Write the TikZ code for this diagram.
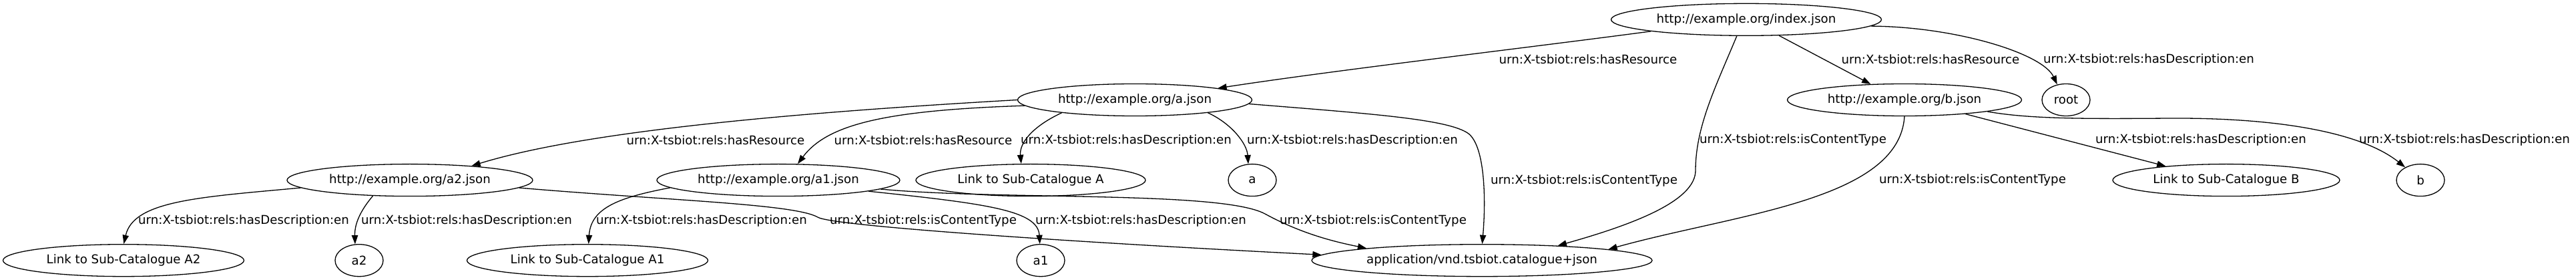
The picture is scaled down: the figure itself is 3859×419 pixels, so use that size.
\documentclass[tikz,border=0pt]{standalone}
\usepackage{fontspec}
\setmainfont{DejaVu Sans}
\usetikzlibrary{arrows.meta,shapes.geometric}
\begin{document}
\begin{tikzpicture}[x=1pt,y=-1pt,
  nd/.style={draw,ellipse,line width=1.3pt,inner sep=0pt,minimum height=48pt,font=\fontsize{18.2pt}{22pt}\selectfont},
  lbl/.style={inner sep=0pt,font=\fontsize{18.2pt}{22pt}\selectfont},
  edge/.style={draw,line width=1.3pt,-{Triangle[length=13.3pt,width=9.3pt]}}]
\useasboundingbox (0,0) rectangle (3859,419);
% nodes
\node[nd,minimum width=405pt] (index) at (2616,29.3) {http://example.org/index.json};
\node[nd,minimum width=351pt] (aj) at (1700,149.5) {http://example.org/a.json};
\node[nd,minimum width=351pt] (bj) at (2853,149.5) {http://example.org/b.json};
\node[nd,minimum width=72pt] (root) at (3095,149.5) {root};
\node[nd,minimum width=368pt] (a2j) at (614,269.6) {http://example.org/a2.json};
\node[nd,minimum width=364pt] (a1j) at (1166,269.6) {http://example.org/a1.json};
\node[nd,minimum width=344pt] (linkA) at (1544,269.6) {Link to Sub-Catalogue A};
\node[nd,minimum width=72pt] (a) at (1876,269.6) {a};
\node[nd,minimum width=340pt] (linkB) at (3335,269.6) {Link to Sub-Catalogue B};
\node[nd,minimum width=72pt] (b) at (3626,269.6) {b};
\node[nd,minimum width=361pt] (linkA2) at (185,389.7) {Link to Sub-Catalogue A2};
\node[nd,minimum width=72pt] (a2) at (538,389.7) {a2};
\node[nd,minimum width=361pt] (linkA1) at (880,389.7) {Link to Sub-Catalogue A1};
\node[nd,minimum width=72pt] (a1) at (1559,389.7) {a1};
\node[nd,minimum width=510pt] (content) at (2220,389.7) {application/vnd.tsbiot.catalogue+json};
% labels
\node[lbl] (l1) at (2379,89) {urn:X-tsbiot:rels:hasResource};
\node[lbl] (l2) at (2892,89) {urn:X-tsbiot:rels:hasResource};
\node[lbl] (l3) at (3219,89) {urn:X-tsbiot:rels:hasDescription:en};
\node[lbl] (l4) at (2686,209) {urn:X-tsbiot:rels:isContentType};
\node[lbl] (l5) at (2955,269) {urn:X-tsbiot:rels:isContentType};
\node[lbl] (l6) at (3297,209) {urn:X-tsbiot:rels:hasDescription:en};
\node[lbl] (l7) at (3692,209) {urn:X-tsbiot:rels:hasDescription:en};
\node[lbl] (l8) at (1072,210) {urn:X-tsbiot:rels:hasResource};
\node[lbl] (l9) at (1383,210) {urn:X-tsbiot:rels:hasResource};
\node[lbl] (l10) at (1687,210) {urn:X-tsbiot:rels:hasDescription:en};
\node[lbl] (l11) at (2026,210) {urn:X-tsbiot:rels:hasDescription:en};
\node[lbl] (l12) at (2373,270) {urn:X-tsbiot:rels:isContentType};
\node[lbl] (l13) at (365,330) {urn:X-tsbiot:rels:hasDescription:en};
\node[lbl] (l14) at (699,330) {urn:X-tsbiot:rels:hasDescription:en};
\node[lbl] (l15) at (1383,330) {urn:X-tsbiot:rels:isContentType};
\node[lbl] (l16) at (1051,330) {urn:X-tsbiot:rels:hasDescription:en};
\node[lbl] (l17) at (1709,330) {urn:X-tsbiot:rels:hasDescription:en};
\node[lbl] (l18) at (2057,330) {urn:X-tsbiot:rels:isContentType};
% edges
\draw[edge] (index.187) .. controls (2300,70) and (2000,105) .. (aj.8);
\draw[edge] (index.-26) -- (bj.155);
\draw[edge] (index.-3) .. controls (2930,40) and (3060,80) .. (root.120);
\draw[edge] (index.240) .. controls (2570,130) and (2540,190) .. (2540,255) .. controls (2540,300) and (2450,335) .. (content.11);
\draw[edge] (bj.270) .. controls (2845,300) and (2600,320) .. (content.5);
\draw[edge] (bj.-13) -- (linkB.167);
\draw[edge] (bj.-8) .. controls (3040,178) and (3120,178) .. (3250,177) .. controls (3420,176) and (3540,200) .. (b.140);
\draw[edge] (aj.180) .. controls (1200,168) and (880,195) .. (a2j.13);
\draw[edge] (aj.183) .. controls (1330,165) and (1240,185) .. (a1j.40);
\draw[edge] (aj.190) .. controls (1545,190) and (1527,215) .. (linkA.120);
\draw[edge] (aj.-10) .. controls (1845,185) and (1868,215) .. (a.104);
\draw[edge] (aj.-2) .. controls (2050,170) and (2170,178) .. (2200,200) .. controls (2225,220) and (2226,300) .. (content.89);
\draw[edge] (a2j.184) .. controls (300,295) and (200,300) .. (linkA2.89);
\draw[edge] (a2j.203) .. controls (540,315) and (531,335) .. (a2.104);
\draw[edge] (a2j.-4) .. controls (1000,300) and (1190,305) .. (1225,325) .. controls (1245,338) and (1600,362) .. (content.178);
\draw[edge] (a1j.184) .. controls (930,295) and (885,310) .. (linkA1.86);
\draw[edge] (a1j.-7) .. controls (1480,305) and (1555,315) .. (a1.93);
\draw[edge] (a1j.-5) .. controls (1500,300) and (1830,285) .. (1895,320) .. controls (1950,350) and (2000,362) .. (content.174);
\end{tikzpicture}
\end{document}
